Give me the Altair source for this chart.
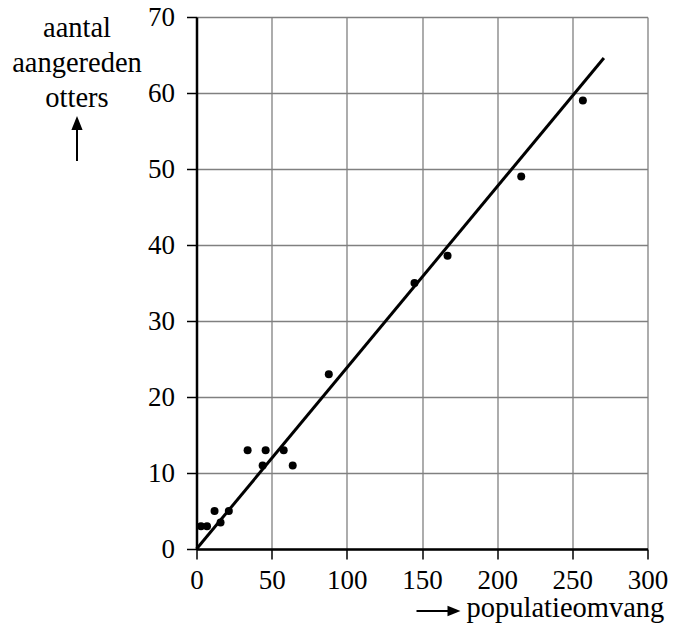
import altair as alt
import pandas as pd

# Data
pop = [3, 7, 12, 16, 21.5, 34, 44, 46, 58, 64, 88, 145, 167, 216, 257]
otters = [3, 3, 5, 3.5, 5, 13, 11, 13, 13, 11, 23, 35, 38.6, 49, 59]
fit_x = [0, 271]
fit_y = [0, 64.6]
x_ticks = [0, 50, 100, 150, 200, 250, 300]
y_ticks = [0, 10, 20, 30, 40, 50, 60, 70]
y_title = ["aantal", "aangereden", "otters"]
x_title = "populatieomvang"

FONT = "Liberation Serif"

pts_df = pd.DataFrame({"pop": pop, "otters": otters})
fit_df = pd.DataFrame({"pop": fit_x, "otters": fit_y})
one = pd.DataFrame({"a": [0]})

xscale = alt.Scale(domain=[0, 300], nice=False)
yscale = alt.Scale(domain=[0, 70], nice=False)

common_axis = dict(
    title=None, grid=True, gridColor="#808080", gridWidth=1.3,
    domainColor="black", domainWidth=2.5, tickColor="black", tickWidth=1.5,
    tickSize=10, labelFont=FONT, labelFontSize=27, labelColor="black",
    labelFlush=False, labelOverlap=False,
)
xaxis = alt.Axis(values=x_ticks, labelPadding=8, **common_axis)
yaxis = alt.Axis(values=y_ticks, labelPadding=12, **common_axis)

points = alt.Chart(pts_df).mark_circle(size=64, color="black", opacity=1).encode(
    x=alt.X("pop:Q", scale=xscale, axis=xaxis),
    y=alt.Y("otters:Q", scale=yscale, axis=yaxis),
)
line = alt.Chart(fit_df).mark_line(color="black", strokeWidth=3).encode(
    x=alt.X("pop:Q", scale=xscale),
    y=alt.Y("otters:Q", scale=yscale),
)

ytitle = alt.Chart(one).mark_text(
    text=y_title, font=FONT, fontSize=28.5, align="center", baseline="top",
    lineHeight=35, color="black",
).encode(x=alt.value(-119.5), y=alt.value(-3))

up_shaft = alt.Chart(one).mark_rule(color="black", strokeWidth=2).encode(
    x=alt.value(-119.5), y=alt.value(108), y2=alt.value(144)
)
up_head = alt.Chart(one).mark_point(
    shape="M0,0L-0.4,1L0.4,1Z", filled=True, size=784, color="black", opacity=1, strokeWidth=0
).encode(x=alt.value(-119.5), y=alt.value(99))

xtitle = alt.Chart(one).mark_text(
    text=x_title, font=FONT, fontSize=28.5, align="left", baseline="alphabetic", color="black"
).encode(x=alt.value(270), y=alt.value(600))

r_shaft = alt.Chart(one).mark_rule(color="black", strokeWidth=2).encode(
    x=alt.value(220), x2=alt.value(256), y=alt.value(594)
)
r_head = alt.Chart(one).mark_point(
    shape="M0,0L-1,-0.4L-1,0.4Z", filled=True, size=676, color="black", opacity=1, strokeWidth=0
).encode(x=alt.value(264), y=alt.value(594))

chart = alt.layer(line, points, ytitle, up_shaft, up_head, xtitle, r_shaft, r_head).properties(
    width=451, height=532,
    autosize=alt.AutoSizeParams(type="none"),
    padding={"left": 188.5, "top": 9, "right": 20.5, "bottom": 75},
    background="white",
).configure_view(stroke=None)

chart.save("out.html", embed_options={"renderer": "svg", "actions": False})
